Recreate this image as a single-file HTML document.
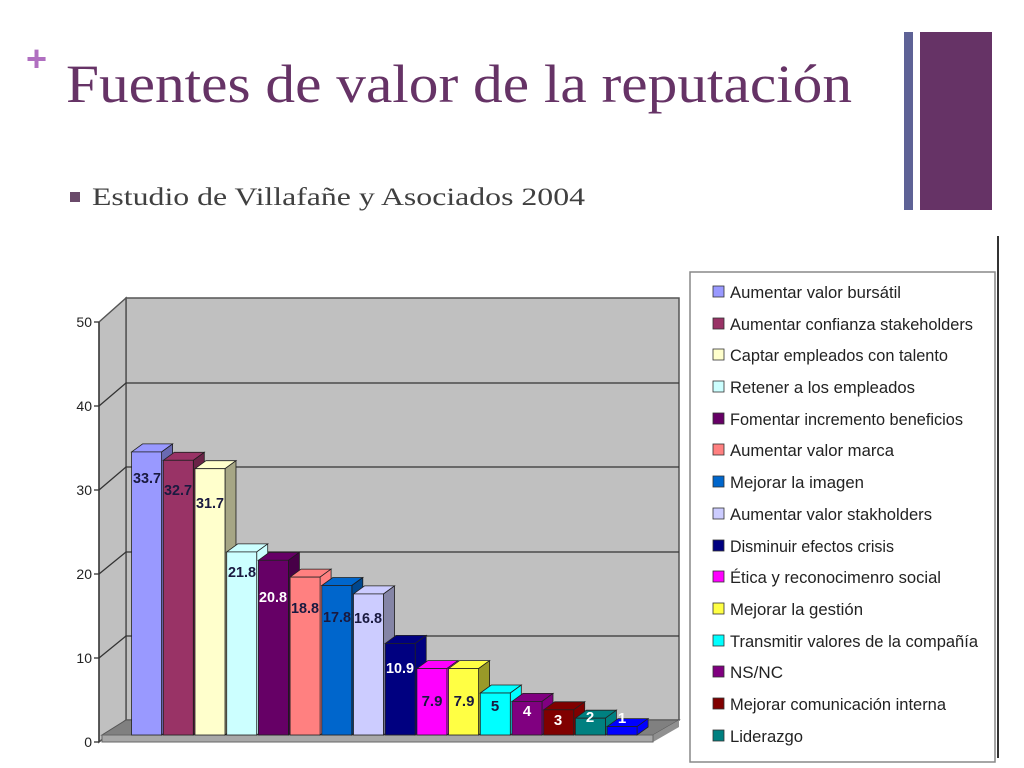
<!DOCTYPE html>
<html><head><meta charset="utf-8"><style>
html,body{margin:0;padding:0;background:#fff;}
svg{display:block;}
</style></head><body>
<svg width="1024" height="768" viewBox="0 0 1024 768" xmlns="http://www.w3.org/2000/svg" font-family="Liberation Sans, sans-serif">
<rect width="1024" height="768" fill="#fff"/>
<text x="26" y="71" font-size="36" font-weight="bold" fill="#b06fc0">+</text>
<text x="66" y="102" font-family="Liberation Serif, serif" font-size="54" fill="#663366" textLength="786" lengthAdjust="spacingAndGlyphs">Fuentes de valor de la reputación</text>
<rect x="70" y="192" width="10" height="10" fill="#6a4a6a"/>
<text x="92" y="205" font-family="Liberation Serif, serif" font-size="25" fill="#404040" textLength="493" lengthAdjust="spacingAndGlyphs">Estudio de Villafañe y Asociados 2004</text>
<rect x="904" y="32" width="9" height="178" fill="#5e6296"/>
<rect x="920" y="32" width="72" height="178" fill="#663366"/>

<polygon points="126,298 679,298 679,720 126,720" fill="#c0c0c0" stroke="#555" stroke-width="1.5"/>
<polygon points="99,322 126,298 126,720 99,742" fill="#c0c0c0" stroke="#555" stroke-width="1.5"/>
<g stroke="#333" stroke-width="1.3" fill="none">
<polyline points="99,658 126,636 679,636"/>
<polyline points="99,574 126,552 679,552"/>
<polyline points="99,490 126,467 679,467"/>
<polyline points="99,406 126,383 679,383"/>
</g>
<polygon points="126,720 679,720 653,735 102,735" fill="#808080" stroke="#555"/>
<polygon points="653,735 679,720 679,727 653,742" fill="#909090"/>
<rect x="102" y="735" width="551" height="7" fill="#a8a8a8" stroke="#666"/>
<g stroke="#333" stroke-width="1.3">
<line x1="99" y1="322" x2="99" y2="742"/>
<line x1="94" y1="322" x2="99" y2="322"/>
<line x1="94" y1="406" x2="99" y2="406"/>
<line x1="94" y1="490" x2="99" y2="490"/>
<line x1="94" y1="574" x2="99" y2="574"/>
<line x1="94" y1="658" x2="99" y2="658"/>
<line x1="94" y1="742" x2="99" y2="742"/>
</g>
<g font-size="14" fill="#222" text-anchor="end">
<text x="92" y="327">50</text><text x="92" y="411">40</text><text x="92" y="495">30</text>
<text x="92" y="579">20</text><text x="92" y="663">10</text><text x="92" y="747">0</text>
</g>

<g stroke="#222" stroke-width="0.8">
<g fill="#9999ff"><polygon points="131.6,451.9 142.6,443.9 172.6,443.9 161.6,451.9"/><polygon points="161.6,451.9 172.6,443.9 172.6,727 161.6,735"/><rect x="131.6" y="451.9" width="30" height="283.1"/></g>
<g fill="#000" opacity="0.3" stroke="none"><polygon points="161.6,451.9 172.6,443.9 172.6,727 161.6,735"/></g>
<g fill="#993366"><polygon points="163.3,460.3 174.3,452.3 204.3,452.3 193.3,460.3"/><polygon points="193.3,460.3 204.3,452.3 204.3,727 193.3,735"/><rect x="163.3" y="460.3" width="30" height="274.7"/></g>
<g fill="#000" opacity="0.3" stroke="none"><polygon points="193.3,460.3 204.3,452.3 204.3,727 193.3,735"/></g>
<g fill="#ffffcc"><polygon points="195,468.7 206,460.7 236,460.7 225,468.7"/><polygon points="225,468.7 236,460.7 236,727 225,735"/><rect x="195" y="468.7" width="30" height="266.3"/></g>
<g fill="#000" opacity="0.35" stroke="none"><polygon points="225,468.7 236,460.7 236,727 225,735"/></g>
<g fill="#ccffff"><polygon points="226.7,551.9 237.7,543.9 267.7,543.9 256.7,551.9"/><polygon points="256.7,551.9 267.7,543.9 267.7,727 256.7,735"/><rect x="226.7" y="551.9" width="30" height="183.1"/></g>
<g fill="#660066"><polygon points="258.4,560.3 269.4,552.3 299.4,552.3 288.4,560.3"/><polygon points="288.4,560.3 299.4,552.3 299.4,727 288.4,735"/><rect x="258.4" y="560.3" width="30" height="174.7"/></g>
<g fill="#000" opacity="0.3" stroke="none"><polygon points="288.4,560.3 299.4,552.3 299.4,727 288.4,735"/></g>
<g fill="#ff8080"><polygon points="290.1,577.1 301.1,569.1 331.1,569.1 320.1,577.1"/><polygon points="320.1,577.1 331.1,569.1 331.1,727 320.1,735"/><rect x="290.1" y="577.1" width="30" height="157.9"/></g>
<g fill="#0066cc"><polygon points="321.8,585.5 332.8,577.5 362.8,577.5 351.8,585.5"/><polygon points="351.8,585.5 362.8,577.5 362.8,727 351.8,735"/><rect x="321.8" y="585.5" width="30" height="149.5"/></g>
<g fill="#000" opacity="0.3" stroke="none"><polygon points="351.8,585.5 362.8,577.5 362.8,727 351.8,735"/></g>
<g fill="#ccccff"><polygon points="353.5,593.9 364.5,585.9 394.5,585.9 383.5,593.9"/><polygon points="383.5,593.9 394.5,585.9 394.5,727 383.5,735"/><rect x="353.5" y="593.9" width="30" height="141.1"/></g>
<g fill="#000" opacity="0.35" stroke="none"><polygon points="383.5,593.9 394.5,585.9 394.5,727 383.5,735"/></g>
<g fill="#000080"><polygon points="385.2,643.4 396.2,635.4 426.2,635.4 415.2,643.4"/><polygon points="415.2,643.4 426.2,635.4 426.2,727 415.2,735"/><rect x="385.2" y="643.4" width="30" height="91.6"/></g>
<g fill="#ff00ff"><polygon points="416.9,668.6 427.9,660.6 457.9,660.6 446.9,668.6"/><polygon points="446.9,668.6 457.9,660.6 457.9,727 446.9,735"/><rect x="416.9" y="668.6" width="30" height="66.4"/></g>
<g fill="#ffff44"><polygon points="448.6,668.6 459.6,660.6 489.6,660.6 478.6,668.6"/><polygon points="478.6,668.6 489.6,660.6 489.6,727 478.6,735"/><rect x="448.6" y="668.6" width="30" height="66.4"/></g>
<g fill="#000" opacity="0.4" stroke="none"><polygon points="478.6,668.6 489.6,660.6 489.6,727 478.6,735"/></g>
<g fill="#00ffff"><polygon points="480.3,693 491.3,685 521.3,685 510.3,693"/><polygon points="510.3,693 521.3,685 521.3,727 510.3,735"/><rect x="480.3" y="693" width="30" height="42"/></g>
<g fill="#800080"><polygon points="512,701.4 523,693.4 553,693.4 542,701.4"/><polygon points="542,701.4 553,693.4 553,727 542,735"/><rect x="512" y="701.4" width="30" height="33.6"/></g>
<g fill="#800000"><polygon points="543.7,709.8 554.7,701.8 584.7,701.8 573.7,709.8"/><polygon points="573.7,709.8 584.7,701.8 584.7,727 573.7,735"/><rect x="543.7" y="709.8" width="30" height="25.2"/></g>
<g fill="#008080"><polygon points="575.4,718.2 586.4,710.2 616.4,710.2 605.4,718.2"/><polygon points="605.4,718.2 616.4,710.2 616.4,727 605.4,735"/><rect x="575.4" y="718.2" width="30" height="16.8"/></g>
<g fill="#0000ff"><polygon points="607.1,726.6 618.1,718.6 648.1,718.6 637.1,726.6"/><polygon points="637.1,726.6 648.1,718.6 648.1,727 637.1,735"/><rect x="607.1" y="726.6" width="30" height="8.4"/></g>
</g>
<g font-size="15" font-weight="bold" text-anchor="middle" fill="#1a1a40">
<text x="147" y="483" textLength="28" lengthAdjust="spacingAndGlyphs">33.7</text>
<text x="178" y="495" textLength="28" lengthAdjust="spacingAndGlyphs">32.7</text>
<text x="210" y="508" textLength="28" lengthAdjust="spacingAndGlyphs">31.7</text>
<text x="242" y="577" textLength="28" lengthAdjust="spacingAndGlyphs">21.8</text>
<text x="273" y="602" fill="#fff" textLength="28" lengthAdjust="spacingAndGlyphs">20.8</text>
<text x="305" y="613" textLength="28" lengthAdjust="spacingAndGlyphs">18.8</text>
<text x="337" y="622" textLength="28" lengthAdjust="spacingAndGlyphs">17.8</text>
<text x="368" y="623" textLength="28" lengthAdjust="spacingAndGlyphs">16.8</text>
<text x="400" y="673" fill="#fff" textLength="28" lengthAdjust="spacingAndGlyphs">10.9</text>
<text x="432" y="706">7.9</text>
<text x="464" y="706">7.9</text>
<text x="495" y="711">5</text>
<text x="527" y="716" fill="#fff">4</text>
<text x="558" y="725" fill="#fff">3</text>
<text x="590" y="722" fill="#fff">2</text>
<text x="622" y="723" fill="#fff">1</text>
</g>

<line x1="998" y1="236" x2="998" y2="758" stroke="#333" stroke-width="2"/>
<rect x="690" y="272" width="305" height="490" fill="#fff" stroke="#888" stroke-width="1.5"/>
<g stroke="#333" stroke-width="0.8">
<rect x="713" y="286" width="11" height="11" fill="#9999ff"/>
<rect x="713" y="318" width="11" height="11" fill="#993366"/>
<rect x="713" y="349" width="11" height="11" fill="#ffffcc"/>
<rect x="713" y="381" width="11" height="11" fill="#ccffff"/>
<rect x="713" y="413" width="11" height="11" fill="#660066"/>
<rect x="713" y="444" width="11" height="11" fill="#ff8080"/>
<rect x="713" y="476" width="11" height="11" fill="#0066cc"/>
<rect x="713" y="508" width="11" height="11" fill="#ccccff"/>
<rect x="713" y="540" width="11" height="11" fill="#000080"/>
<rect x="713" y="571" width="11" height="11" fill="#ff00ff"/>
<rect x="713" y="603" width="11" height="11" fill="#ffff44"/>
<rect x="713" y="635" width="11" height="11" fill="#00ffff"/>
<rect x="713" y="666" width="11" height="11" fill="#800080"/>
<rect x="713" y="698" width="11" height="11" fill="#800000"/>
<rect x="713" y="730" width="11" height="11" fill="#008080"/>
</g>
<g font-size="17" fill="#222">
<text x="730" y="298" textLength="171" lengthAdjust="spacingAndGlyphs">Aumentar valor bursátil</text>
<text x="730" y="330" textLength="243" lengthAdjust="spacingAndGlyphs">Aumentar confianza stakeholders</text>
<text x="730" y="361" textLength="218" lengthAdjust="spacingAndGlyphs">Captar empleados con talento</text>
<text x="730" y="393" textLength="185" lengthAdjust="spacingAndGlyphs">Retener a los empleados</text>
<text x="730" y="425" textLength="233" lengthAdjust="spacingAndGlyphs">Fomentar incremento beneficios</text>
<text x="730" y="456" textLength="164" lengthAdjust="spacingAndGlyphs">Aumentar valor marca</text>
<text x="730" y="488" textLength="134" lengthAdjust="spacingAndGlyphs">Mejorar la imagen</text>
<text x="730" y="520" textLength="202" lengthAdjust="spacingAndGlyphs">Aumentar valor stakholders</text>
<text x="730" y="552" textLength="164" lengthAdjust="spacingAndGlyphs">Disminuir efectos crisis</text>
<text x="730" y="583" textLength="211" lengthAdjust="spacingAndGlyphs">Ética y reconocimenro social</text>
<text x="730" y="615" textLength="133" lengthAdjust="spacingAndGlyphs">Mejorar la gestión</text>
<text x="730" y="647" textLength="248" lengthAdjust="spacingAndGlyphs">Transmitir valores de la compañía</text>
<text x="730" y="678" textLength="53" lengthAdjust="spacingAndGlyphs">NS/NC</text>
<text x="730" y="710" textLength="216" lengthAdjust="spacingAndGlyphs">Mejorar comunicación interna</text>
<text x="730" y="742" textLength="73" lengthAdjust="spacingAndGlyphs">Liderazgo</text>
</g>
</svg>
</body></html>
